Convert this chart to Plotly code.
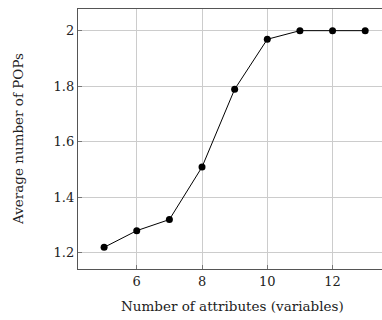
import plotly.graph_objects as go

attributes = [5, 6, 7, 8, 9, 10, 11, 12, 13]
avg_pops = [1.22, 1.28, 1.32, 1.509, 1.789, 1.969, 2.0, 2.0, 2.0]
x_ticks = [6, 8, 10, 12]
y_ticks = [1.2, 1.4, 1.6, 1.8, 2.0]
y_tick_labels = ["1.2", "1.4", "1.6", "1.8", "2"]
x_title = "Number of attributes (variables)"
y_title = "Average number of POPs"

font_family = "DejaVu Serif, Liberation Serif, serif"

fig = go.Figure()
fig.add_trace(go.Scatter(
    x=attributes, y=avg_pops, mode="lines+markers",
    line=dict(color="black", width=1),
    marker=dict(color="black", size=7),
    showlegend=False,
))

fig.update_layout(
    width=382, height=320,
    margin=dict(l=78, r=0, t=9, b=51, autoexpand=False),
    paper_bgcolor="white", plot_bgcolor="white",
    font=dict(family=font_family, size=13, color="#222"),
    xaxis=dict(
        range=[4.2, 13.515], tickvals=x_ticks, ticktext=[str(v) for v in x_ticks],
        showgrid=True, gridcolor="#cccccc", gridwidth=1,
        showline=True, linecolor="#555555", linewidth=1.3, mirror=True,
        ticks="inside", ticklen=4, tickcolor="#777777",
        zeroline=False, automargin=False,
    ),
    yaxis=dict(
        range=[1.142, 2.078], tickvals=y_ticks, ticktext=y_tick_labels,
        showgrid=True, gridcolor="#cccccc", gridwidth=1,
        showline=True, linecolor="#555555", linewidth=1.3, mirror=False,
        ticks="inside", ticklen=4, tickcolor="#777777",
        zeroline=False, automargin=False,
    ),
    annotations=[
        dict(text=x_title, xref="paper", yref="paper", x=(233 - 78) / 304, y=-(306 - 269) / 260,
             xanchor="center", yanchor="middle", showarrow=False, font=dict(size=13.5)),
        dict(text=y_title, xref="paper", yref="paper", x=-(78 - 18) / 304, y=0.5,
             xanchor="center", yanchor="middle", textangle=-90, showarrow=False, font=dict(size=13.5)),
    ],
)

fig.write_html(
    "out.html",
    config={"displayModeBar": False},
    post_script="document.body.style.margin='0';document.body.style.overflow='hidden';",
)
